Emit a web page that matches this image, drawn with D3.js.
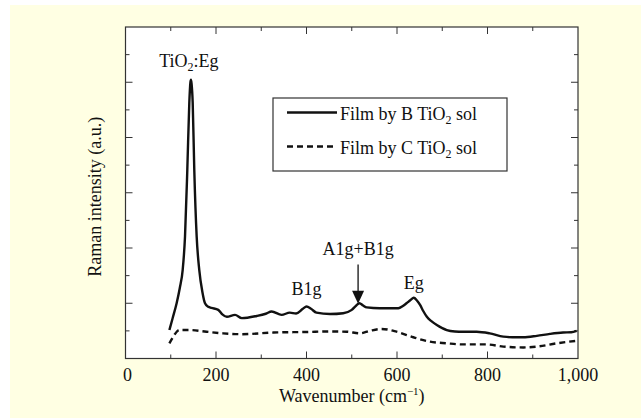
<!DOCTYPE html>
<html>
<head>
    <title>Raman spectra of TiO2 films</title>
    <script src="https://d3js.org/d3.v7.min.js"></script>
    <style>
        body { margin: 0; background: #ffffff; }
        svg { display: block; }
        text { font-family: 'Liberation Serif', 'DejaVu Serif', serif; }
    </style>
</head>
<body>
    <svg width="641" height="418"></svg>

    <script>
        // Wavenumber (cm-1) and intensity (arbitrary units, 0-12)
        const filmB = [
            [97, 1.03], [104, 1.45], [113, 2.0], [120, 2.55], [126.4, 3.21], [131.5, 4.41],
            [136.6, 6.83], [141, 9.26], [143.5, 10.0], [144.7, 10.09], [146, 9.95], [148.5, 9.26],
            [152, 6.83], [157.3, 4.41], [163, 3.21], [170, 2.4], [175.7, 2.0], [183, 1.87],
            [190, 1.83], [205, 1.76], [214, 1.6], [224, 1.51], [242, 1.58], [257, 1.46], [290, 1.54],
            [310, 1.62], [323, 1.70], [345, 1.58], [363, 1.66], [377, 1.63], [392, 1.8], [400, 1.88],
            [410, 1.8], [422, 1.66], [452, 1.61], [481, 1.64], [500, 1.76], [510, 1.92], [517, 2.0],
            [525, 1.92], [533, 1.85], [562, 1.82], [603, 1.82], [613, 1.9], [621, 2.0], [630, 2.12],
            [637, 2.2], [644, 2.1], [651, 1.94], [658, 1.72], [666, 1.51], [676, 1.35], [688, 1.21],
            [700, 1.1], [710, 1.03], [728, 0.98], [746, 0.97], [776, 0.97], [805, 0.91], [835, 0.79],
            [855, 0.77], [879, 0.77], [909, 0.82], [938, 0.89], [967, 0.94], [985, 0.95], [997, 1.0]
        ];
        const filmC = [
            [97, 0.55], [104, 0.75], [109, 0.88], [119, 1.03], [142, 1.03], [179, 0.97], [216, 0.91],
            [257, 0.88], [327, 0.94], [400, 0.96], [452, 0.98], [489, 0.97], [518, 0.91], [540, 1.0],
            [566, 1.07], [599, 0.97], [636, 0.77], [673, 0.61], [710, 0.55], [746, 0.51], [798, 0.51],
            [835, 0.43], [879, 0.40], [909, 0.43], [953, 0.55], [997, 0.64]
        ];
        const xTicks = [0, 200, 400, 600, 800, 1000];
        const legendLabels = ["B", "C"];
        const peakLabels = [
            { name: "TiO2:Eg", x: 140, y: 10.55 },
            { name: "B1g", x: 400, y: 2.3 },
            { name: "A1g+B1g", x: 514, y: 3.75 },
            { name: "Eg", x: 637, y: 2.5 }
        ];

        const svg = d3.select("svg");
        svg.append("rect").attr("x", 10).attr("y", 5).attr("width", 631).attr("height", 413)
            .attr("fill", "#ffffe3");

        const margin = { top: 27, right: 63, bottom: 59.5, left: 125.5 };
        const width = 641 - margin.left - margin.right;
        const height = 418 - margin.top - margin.bottom;
        const g = svg.append("g").attr("transform", `translate(${margin.left},${margin.top})`);

        const x = d3.scaleLinear().domain([0, 1000]).range([0, width]);
        const y = d3.scaleLinear().domain([0, 12]).range([height, 0]);

        g.append("rect").attr("width", width).attr("height", height).attr("fill", "#ffffff");

        // inward ticks on all four sides
        const minorX = d3.range(100, 1000, 200);
        function ticksOn(sel, vals, len, horiz, pos) {
            sel.selectAll(null).data(vals).enter().append("line")
                .attr("x1", d => horiz ? x(d) : pos)
                .attr("x2", d => horiz ? x(d) : pos + len)
                .attr("y1", d => horiz ? pos : y(d))
                .attr("y2", d => horiz ? pos + len : y(d))
                .attr("stroke", "#333").attr("stroke-width", 1);
        }
        const ax = g.append("g");
        ticksOn(ax, xTicks.slice(1, -1), -7, true, height);
        ticksOn(ax, minorX, -4, true, height);
        ticksOn(ax, xTicks.slice(1, -1), 7, true, 0);
        ticksOn(ax, minorX, 4, true, 0);
        const majorY = d3.range(2, 12, 2), minorY = d3.range(1, 12, 2);
        ticksOn(ax, majorY, 7, false, 0);
        ticksOn(ax, minorY, 4, false, 0);
        ticksOn(ax, majorY, -7, false, width);
        ticksOn(ax, minorY, -4, false, width);

        g.append("rect").attr("width", width).attr("height", height)
            .attr("fill", "none").attr("stroke", "#333").attr("stroke-width", 1.2);

        g.selectAll(".xl").data(xTicks).enter().append("text")
            .attr("x", d => x(d) + (d === 0 ? 2 : 0)).attr("y", height + 22)
            .attr("text-anchor", "middle").attr("font-size", 18).attr("fill", "#111")
            .text(d3.format(","));

        const xt = g.append("text").attr("x", width / 2).attr("y", height + 43)
            .attr("text-anchor", "middle").attr("font-size", 18).attr("fill", "#111");
        xt.append("tspan").text("Wavenumber (cm");
        xt.append("tspan").attr("font-size", 11).attr("dy", -7).text("\u22121");
        xt.append("tspan").attr("dy", 7).text(")");

        g.append("text").attr("transform", `translate(-25,${height / 2 + 4}) rotate(-90)`)
            .attr("text-anchor", "middle").attr("font-size", 18).attr("fill", "#111")
            .text("Raman intensity (a.u.)");

        const line = d3.line().x(d => x(d[0])).y(d => y(d[1])).curve(d3.curveMonotoneX);
        g.append("path").datum(filmB).attr("d", line).attr("fill", "none")
            .attr("stroke", "#111").attr("stroke-width", 2.4).attr("stroke-linejoin", "round");
        g.append("path").datum(filmC).attr("d", line).attr("fill", "none")
            .attr("stroke", "#111").attr("stroke-width", 2.4).attr("stroke-dasharray", "6,4");

        // peak labels
        peakLabels.forEach(p => {
            const t = g.append("text").attr("x", x(p.x)).attr("y", y(p.y))
                .attr("text-anchor", "middle").attr("font-size", 18).attr("fill", "#111");
            if (p.name === "TiO2:Eg") {
                t.append("tspan").text("TiO");
                t.append("tspan").attr("font-size", 12).attr("dy", 4).text("2");
                t.append("tspan").attr("dy", -4).text(":Eg");
            } else {
                t.text(p.name);
            }
        });

        // arrow to A1g+B1g
        const ax0 = x(514);
        g.append("line").attr("x1", ax0).attr("x2", ax0).attr("y1", y(3.4)).attr("y2", y(2.4))
            .attr("stroke", "#111").attr("stroke-width", 1.3);
        g.append("path")
            .attr("d", `M${ax0 - 6},${y(2.45)} L${ax0 + 6},${y(2.45)} L${ax0},${y(1.98)} Z`)
            .attr("fill", "#111");

        // legend
        const lg = svg.append("g");
        lg.append("rect").attr("x", 273).attr("y", 98).attr("width", 234).attr("height", 73)
            .attr("fill", "#fff").attr("stroke", "#333").attr("stroke-width", 1.2);
        legendLabels.forEach((s, i) => {
            const ly = 112.5 + i * 34;
            lg.append("line").attr("x1", 287).attr("x2", 337).attr("y1", ly).attr("y2", ly)
                .attr("stroke", "#111").attr("stroke-width", 2.4)
                .attr("stroke-dasharray", i ? "6,4" : null);
            const t = lg.append("text").attr("x", 340).attr("y", ly + 7)
                .attr("font-size", 18).attr("fill", "#111");
            t.append("tspan").text(`Film by ${s} TiO`);
            t.append("tspan").attr("font-size", 12).attr("dy", 4).text("2");
            t.append("tspan").attr("dy", -4).text(" sol");
        });
    </script>
</body>
</html>
